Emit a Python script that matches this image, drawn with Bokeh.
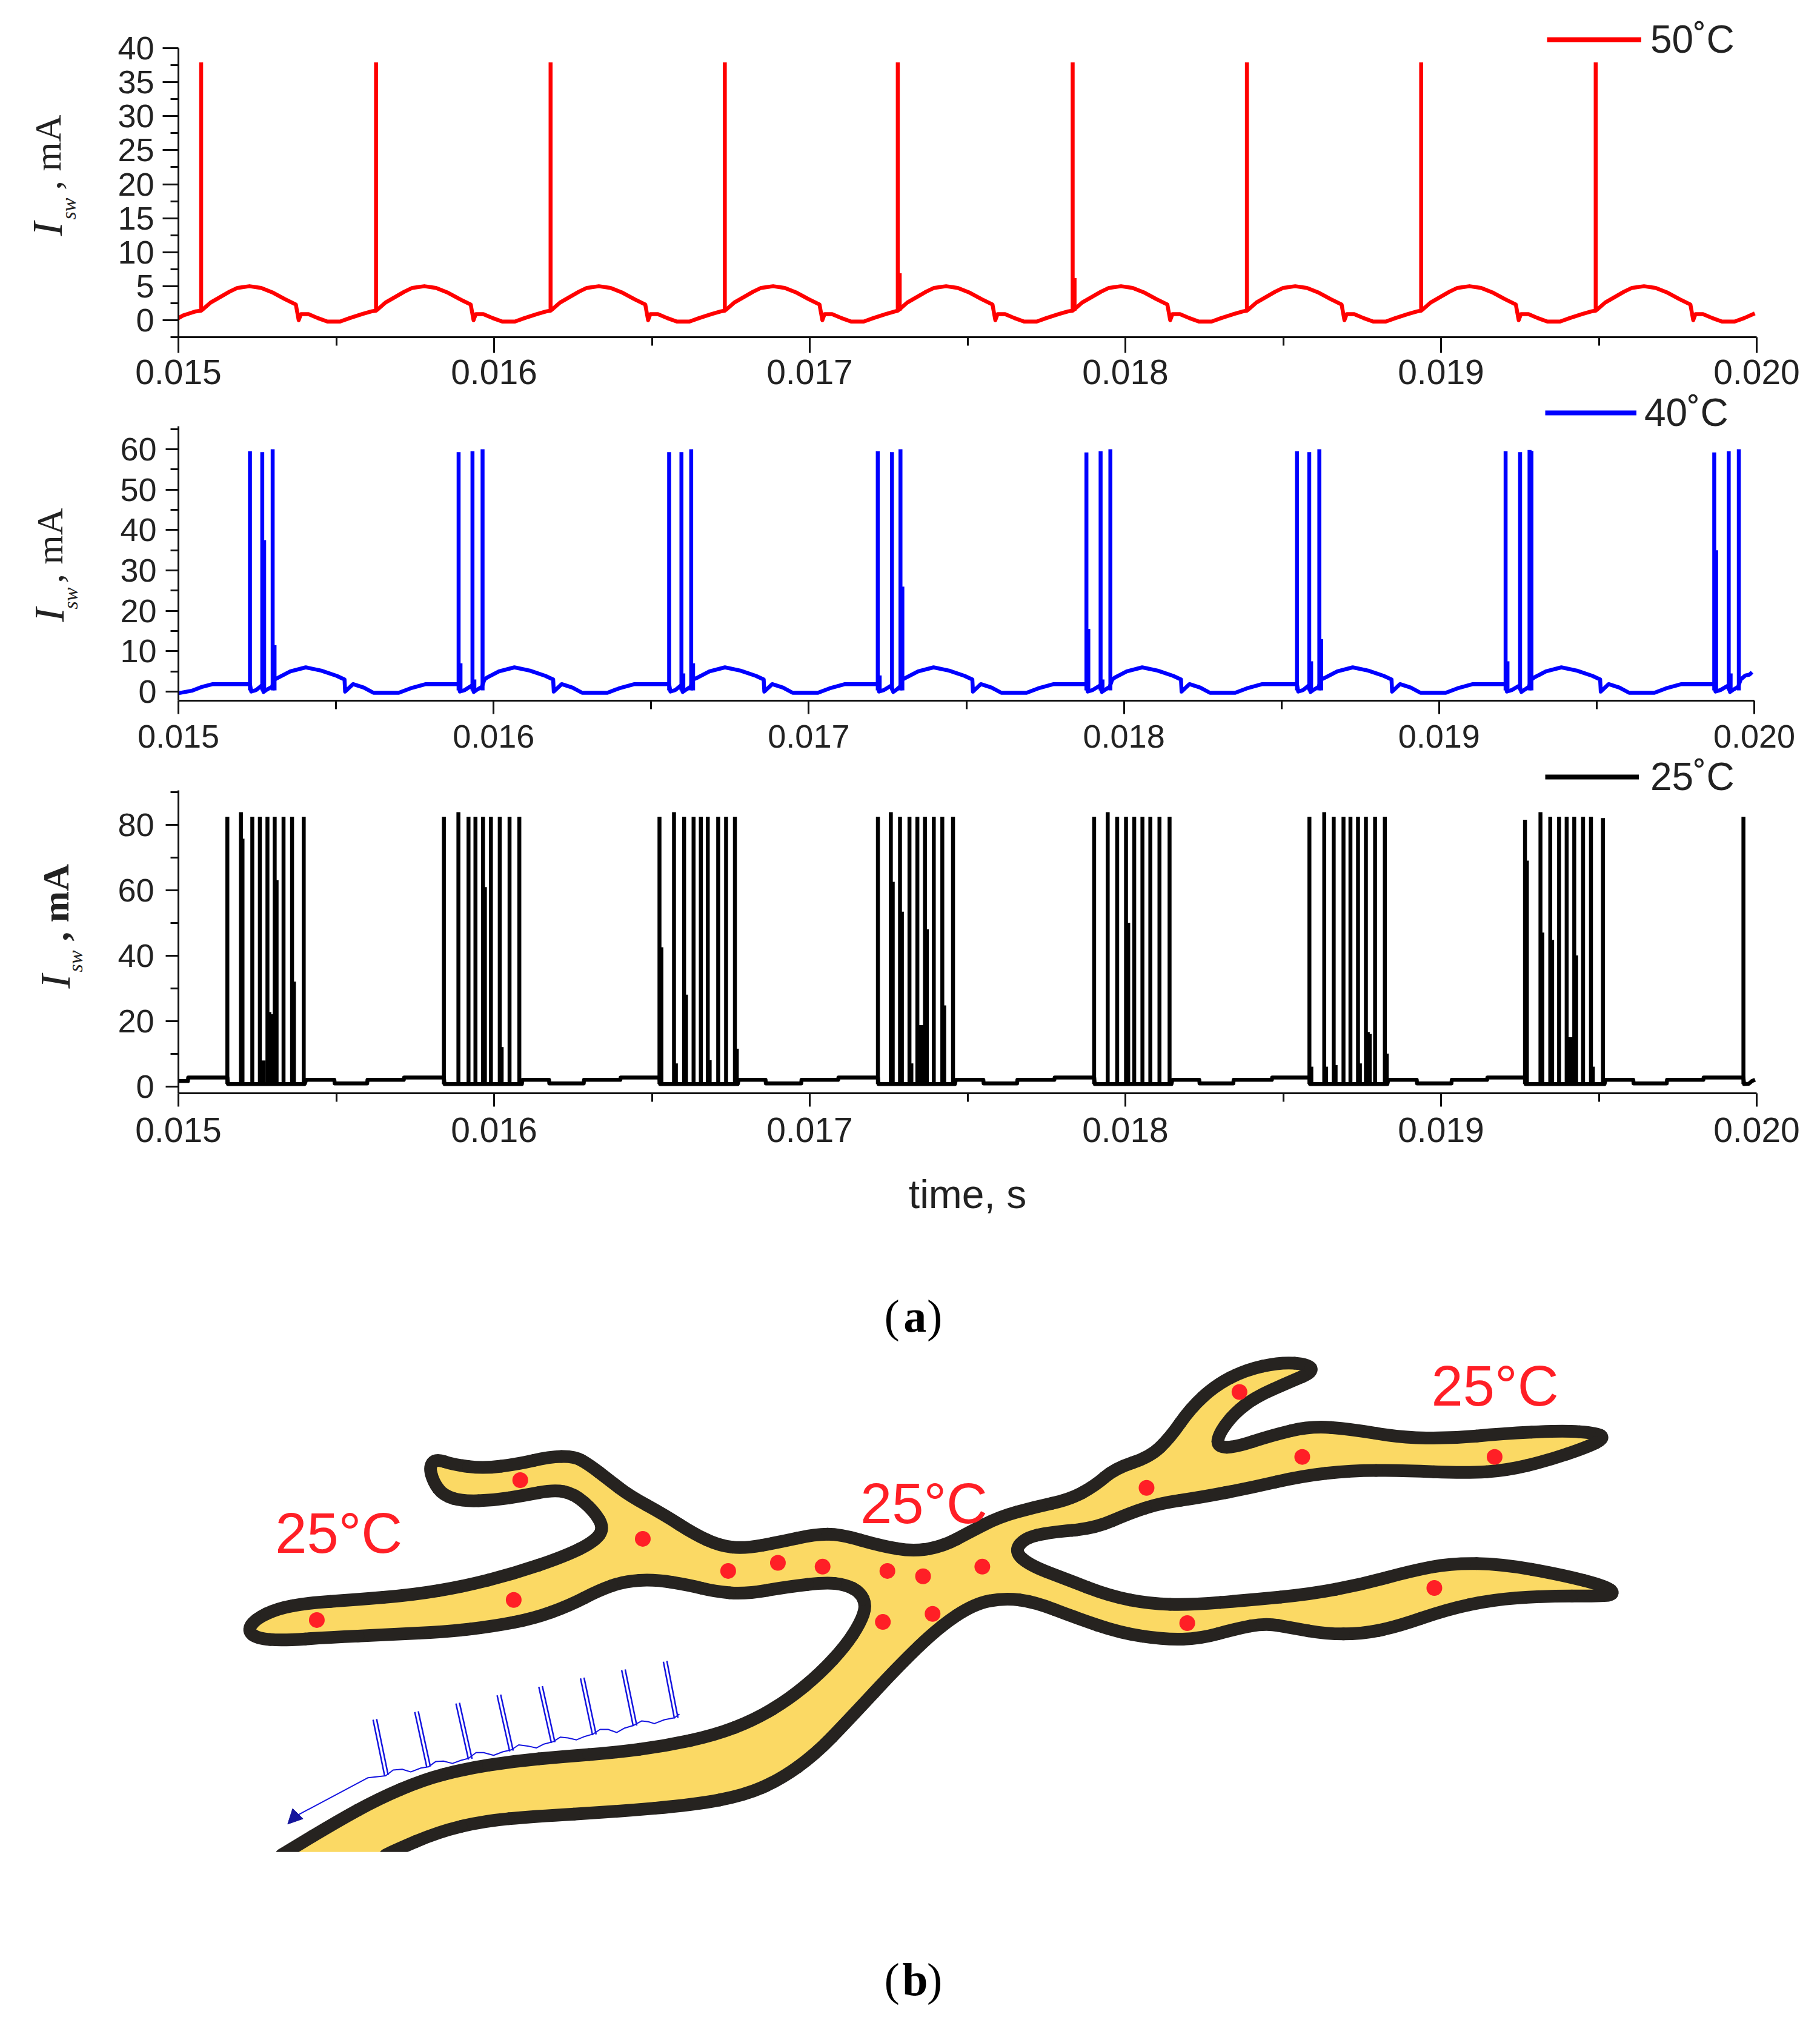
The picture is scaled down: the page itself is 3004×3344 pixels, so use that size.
from bokeh.core.properties import value
from bokeh.embed import file_html
from bokeh.layouts import column
from bokeh.models import (Arrow, FixedTicker, Legend, LegendItem, NormalHead,
                          NumeralTickFormatter, Range1d)
from bokeh.plotting import figure
from bokeh.resources import INLINE
import numpy as np

# time values are in ms, divided by 1000 when plotted
x_major = [0.015, 0.016, 0.017, 0.018, 0.019, 0.020]
x_minor = [0.0155, 0.0165, 0.0175, 0.0185, 0.0195]

# 50 C panel
red_y_major = [0, 5, 10, 15, 20, 25, 30, 35, 40]
red_y_minor = [-2.5, 2.5, 7.5, 12.5, 17.5, 22.5, 27.5, 32.5, 37.5]
red_base_v_cycle = [1.4, 1.7, 2.6, 3.4, 4.2, 4.75, 5.0, 4.75, 4.1, 3.1, 2.3, 0.0, 0.9, 0.9, 0.3, -0.2, -0.2, 0.3, 0.9, 1.3]
red_base_t = [15.000, 15.015, 15.035, 15.055,
    15.072, 15.080, 15.102, 15.132, 15.162, 15.187, 15.225, 15.262, 15.297, 15.337, 15.372, 15.381, 15.388, 15.412, 15.442, 15.472, 15.512, 15.542, 15.582, 15.612,
    15.626, 15.634, 15.656, 15.686, 15.716, 15.741, 15.779, 15.816, 15.851, 15.891, 15.926, 15.935, 15.942, 15.966, 15.996, 16.026, 16.066, 16.096, 16.136, 16.166,
    16.179, 16.187, 16.209, 16.239, 16.269, 16.294, 16.332, 16.369, 16.404, 16.444, 16.479, 16.488, 16.495, 16.519, 16.549, 16.579, 16.619, 16.649, 16.689, 16.719,
    16.731, 16.739, 16.761, 16.791, 16.821, 16.846, 16.884, 16.921, 16.956, 16.996, 17.031, 17.040, 17.047, 17.071, 17.101, 17.131, 17.171, 17.201, 17.241, 17.271,
    17.279, 17.287, 17.309, 17.339, 17.369, 17.394, 17.432, 17.469, 17.504, 17.544, 17.579, 17.588, 17.595, 17.619, 17.649, 17.679, 17.719, 17.749, 17.789, 17.819,
    17.833, 17.841, 17.863, 17.893, 17.923, 17.948, 17.986, 18.023, 18.058, 18.098, 18.133, 18.142, 18.149, 18.173, 18.203, 18.233, 18.273, 18.303, 18.343, 18.373,
    18.385, 18.393, 18.415, 18.445, 18.475, 18.500, 18.538, 18.575, 18.610, 18.650, 18.685, 18.694, 18.701, 18.725, 18.755, 18.785, 18.825, 18.855, 18.895, 18.925,
    18.937, 18.945, 18.967, 18.997, 19.027, 19.052, 19.090, 19.127, 19.162, 19.202, 19.237, 19.246, 19.253, 19.277, 19.307, 19.337, 19.377, 19.407, 19.447, 19.477,
    19.490, 19.498, 19.520, 19.550, 19.580, 19.605, 19.643, 19.680, 19.715, 19.755, 19.790, 19.799, 19.806, 19.830, 19.860, 19.890, 19.930, 19.960, 19.994]
red_base_v = [0.3, 0.7, 1.0, 1.3] + red_base_v_cycle * 8 + red_base_v_cycle[:18] + [1.0]
red_spike_t = [15.072, 15.626, 16.179, 16.731, 17.279, 17.285, 17.833, 17.839, 18.385, 18.937, 19.490]
red_spike_top = [37.9, 37.9, 37.9, 37.9, 37.9, 6.9, 37.9, 6.2, 37.9, 37.9, 37.9]

# 40 C panel
blue_y_major = [0, 10, 20, 30, 40, 50, 60]
blue_y_minor = [5, 15, 25, 35, 45, 55, 65]
blue_v_cycle = [1.85, 0.0, 0.4, 1.5, -0.1, 0.5, 1.2, 3.0, 3.5, 5.0, 6.0, 5.2, 3.9, 3.0, 0.0, 1.85, 1.0, -0.3, -0.3, 0.8, 1.85]
blue_base_t = [15.000, 15.042, 15.072, 15.109,
    15.227, 15.231, 15.247, 15.264, 15.270, 15.281, 15.297, 15.305, 15.318, 15.355, 15.404, 15.453, 15.502, 15.527, 15.529, 15.554, 15.588, 15.619, 15.699, 15.736, 15.785,
    15.889, 15.893, 15.909, 15.931, 15.937, 15.948, 15.963, 15.971, 15.980, 16.017, 16.066, 16.115, 16.164, 16.189, 16.191, 16.216, 16.250, 16.281, 16.361, 16.398, 16.447,
    16.557, 16.561, 16.577, 16.594, 16.600, 16.611, 16.625, 16.633, 16.648, 16.685, 16.734, 16.783, 16.832, 16.857, 16.859, 16.884, 16.918, 16.949, 17.029, 17.066, 17.115,
    17.219, 17.223, 17.239, 17.262, 17.268, 17.279, 17.289, 17.297, 17.310, 17.347, 17.396, 17.445, 17.494, 17.519, 17.521, 17.546, 17.580, 17.611, 17.691, 17.728, 17.777,
    17.881, 17.885, 17.901, 17.924, 17.930, 17.941, 17.955, 17.963, 17.972, 18.009, 18.058, 18.107, 18.156, 18.181, 18.183, 18.208, 18.242, 18.273, 18.353, 18.390, 18.439,
    18.549, 18.553, 18.569, 18.586, 18.592, 18.603, 18.618, 18.626, 18.640, 18.677, 18.726, 18.775, 18.824, 18.849, 18.851, 18.876, 18.910, 18.941, 19.021, 19.058, 19.107,
    19.211, 19.215, 19.231, 19.255, 19.261, 19.272, 19.285, 19.293, 19.302, 19.339, 19.388, 19.437, 19.486, 19.511, 19.513, 19.538, 19.572, 19.603, 19.683, 19.720, 19.769,
    19.873, 19.877, 19.893, 19.917, 19.923, 19.934, 19.949, 19.957, 19.972, 19.985, 19.993]
blue_base_v = [-0.4, 0.2, 1.1, 1.85] + blue_v_cycle * 7 + blue_v_cycle[:8] + [4.0, 4.2, 4.8]
blue_spike_t = [15.227, 15.266, 15.272, 15.299, 15.305,
    15.889, 15.895, 15.933, 15.939, 15.965,
    16.557, 16.596, 16.602, 16.627, 16.633,
    17.219, 17.225, 17.264, 17.291, 17.297,
    17.881, 17.887, 17.926, 17.932, 17.957,
    18.549, 18.588, 18.594, 18.620, 18.626,
    19.211, 19.217, 19.257, 19.287, 19.293,
    19.873, 19.879, 19.919, 19.925, 19.951]
blue_spike_top = [59.5, 59.3, 37.5, 60, 11.5,
    59.3, 7, 59.5, 3, 60,
    59.3, 59.3, 4.5, 60, 7,
    59.5, 4, 59.3, 60, 26,
    59.2, 15.5, 59.5, 3, 60,
    59.5, 59.3, 7.5, 60, 13,
    59.5, 7.5, 59.3, 59.8, 59.6,
    59.2, 35, 59.5, 4.5, 60]

# 25 C panel
black_y_major = [0, 20, 40, 60, 80]
black_y_minor = [10, 30, 50, 70, 90]
black_base_t = [15.000, 15.030, 15.031, 15.155, 15.157, 15.400, 15.405, 15.494, 15.495, 15.598, 15.599, 15.714, 15.715, 15.841,
    15.843, 16.088, 16.090, 16.174, 16.175, 16.284, 16.285, 16.400, 16.401, 16.524,
    16.526, 16.772, 16.775, 16.860, 16.861, 16.973, 16.974, 17.090, 17.091, 17.216,
    17.218, 17.460, 17.463, 17.550, 17.551, 17.657, 17.658, 17.775, 17.776, 17.901,
    17.903, 18.146, 18.149, 18.234, 18.235, 18.342, 18.343, 18.464, 18.465, 18.583,
    18.585, 18.830, 18.833, 18.923, 18.924, 19.033, 19.034, 19.146, 19.147, 19.266,
    19.268, 19.518, 19.521, 19.609, 19.610, 19.715, 19.716, 19.831, 19.832, 19.958,
    19.960, 19.975, 19.985, 19.995]
black_base_v = [1.6, 1.6, 2.7, 2.7, 0.7, 0.7, 2.0, 2.0, 0.9, 0.9, 2.0, 2.0, 2.7, 2.7,
    0.7, 0.7, 2.0, 2.0, 0.9, 0.9, 2.0, 2.0, 2.7, 2.7,
    0.7, 0.7, 2.0, 2.0, 0.9, 0.9, 2.0, 2.0, 2.7, 2.7,
    0.7, 0.7, 2.0, 2.0, 0.9, 0.9, 2.0, 2.0, 2.7, 2.7,
    0.7, 0.7, 2.0, 2.0, 0.9, 0.9, 2.0, 2.0, 2.7, 2.7,
    0.7, 0.7, 2.0, 2.0, 0.9, 0.9, 2.0, 2.0, 2.7, 2.7,
    0.7, 0.7, 2.0, 2.0, 0.9, 0.9, 2.0, 2.0, 2.7, 2.7,
    0.7, 0.8, 1.6, 2.0]
black_spike_t = [15.155, 15.198, 15.203, 15.234, 15.258, 15.270, 15.282, 15.288, 15.293, 15.298, 15.305, 15.311, 15.333, 15.360, 15.366, 15.397,
    15.841, 15.887, 15.919, 15.941, 15.965, 15.971, 15.990, 16.018, 16.024, 16.049, 16.080,
    16.524, 16.530, 16.570, 16.576, 16.602, 16.608, 16.632, 16.655, 16.677, 16.683, 16.710, 16.735, 16.763, 16.769,
    17.216, 17.257, 17.263, 17.286, 17.292, 17.316, 17.322, 17.341, 17.347, 17.352, 17.358, 17.365, 17.371, 17.393, 17.420, 17.426, 17.454,
    17.901, 17.944, 17.974, 18.002, 18.009, 18.028, 18.054, 18.079, 18.108, 18.140,
    18.583, 18.589, 18.630, 18.636, 18.660, 18.666, 18.691, 18.713, 18.737, 18.743, 18.762, 18.768, 18.774, 18.791, 18.822, 18.828,
    19.266, 19.272, 19.315, 19.321, 19.346, 19.352, 19.374, 19.398, 19.404, 19.410, 19.416, 19.422, 19.428, 19.450, 19.475, 19.481, 19.513,
    19.958]
black_spike_top = [82.4, 83.8, 75.7, 82.4, 82.4, 7.9, 82.4, 22.7, 22, 22, 82.4, 63, 82.4, 82.4, 32, 82.4,
    82.4, 83.8, 82.4, 82.4, 82.4, 60.9, 82.4, 82.4, 12, 82.4, 82.4,
    82.4, 42.5, 83.8, 7, 82.4, 28, 82.4, 82.4, 82.4, 8, 82.4, 82.4, 82.4, 11.5,
    82.4, 83.8, 62.5, 82.4, 53.4, 82.4, 7, 82.4, 18.7, 18.7, 18.7, 82.4, 48, 82.4, 82.4, 24.7, 82.4,
    82.4, 83.8, 82.4, 82.4, 50, 82.4, 82.4, 82.4, 82.4, 82.4,
    82.4, 6, 83.8, 6, 82.4, 6.5, 82.4, 82.4, 82.4, 7, 82.4, 16.6, 16, 82.4, 82.4, 10,
    81.5, 69, 83.8, 47, 82.4, 44.7, 82.4, 82.4, 15, 15, 15, 82.4, 40, 82.4, 82.4, 6, 82,
    82.4]

# sketch (b), in its own drawing units
vessel_u = [125, 150, 250, 330, 420, 500, 600, 700, 800, 900, 1000, 1080, 1150, 1210, 1260, 1290, 1302, 1290, 1260, 1220, 1150, 1060, 1000, 950, 880, 820, 770, 710, 640, 560, 470, 350, 230, 140, 90, 70, 85, 130, 190, 280, 400, 500, 600, 700, 760, 780, 760, 720, 680, 620, 560, 500, 460, 440, 432, 445, 480, 540, 610, 670, 720, 750, 790, 830, 900, 960, 1010, 1060, 1130, 1200, 1250, 1330,
    1397, 1457, 1507, 1567, 1637, 1707, 1757, 1797, 1867, 1907, 1947, 1997, 2057, 2127, 2182, 2192, 2147, 2077, 2032, 2002, 2002, 2037, 2107, 2187, 2267, 2367, 2467, 2567, 2687, 2757, 2772, 2737, 2657, 2577, 2497, 2367, 2267, 2167, 2067, 1967, 1887, 1827, 1757, 1667, 1617, 1597, 1627, 1697, 1787, 1867, 1947, 2067, 2187, 2287, 2387, 2467, 2567, 2687, 2777, 2792, 2767, 2647, 2547, 2457, 2357, 2287, 2217, 2147, 2097, 2037, 1967, 1897, 1807, 1717, 1637, 1577, 1517, 1447, 1367,
    1267, 1200, 1130, 1060, 960, 800, 640, 540, 450, 360, 330]
vessel_v = [1360, 1340, 1262, 1205, 1155, 1128, 1107, 1095, 1085, 1068, 1040, 1000, 945, 880, 810, 750, 705, 670, 650, 645, 655, 675, 668, 652, 637, 642, 665, 705, 738, 758, 772, 780, 787, 795, 790, 770, 740, 712, 698, 690, 677, 655, 622, 578, 540, 505, 460, 415, 405, 420, 432, 435, 420, 385, 345, 325, 340, 350, 338, 320, 318, 340, 380, 420, 470, 520, 550, 557, 540, 520, 520, 550,
    565, 550, 515, 475, 450, 430, 395, 350, 320, 270, 195, 135, 95, 75, 80, 100, 125, 165, 210, 265, 295, 295, 265, 240, 248, 270, 272, 260, 252, 258, 272, 295, 330, 355, 362, 355, 355, 370, 400, 425, 440, 465, 505, 515, 530, 565, 600, 635, 680, 700, 703, 690, 675, 650, 615, 595, 597, 625, 655, 675, 680, 680, 690, 715, 760, 778, 778, 762, 750, 765, 790, 793, 775, 735, 695, 685, 700, 760, 860,
    1000, 1090, 1155, 1195, 1220, 1238, 1250, 1262, 1290, 1340, 1360]
dots_u = [613, 857, 600, 208, 1027, 1126, 1215, 1344, 1415, 1533, 1335, 1434, 2045, 2170, 2553, 1860, 2433, 1941]
dots_v = [380, 532, 690, 742, 615, 594, 604, 615, 629, 604, 747, 726, 152, 320, 320, 400, 659, 750]
temp_u = [125, 1290, 2427]
temp_v = [518, 440, 137]
temp_text = ["25°C", "25°C", "25°C"]
wave_u = [165, 310, 345, 360, 378, 395, 415, 430, 445, 460, 478, 495, 510, 525, 540, 560, 578, 595, 610, 628, 645, 660, 678, 693, 708, 725, 742, 758, 772, 788, 805, 820, 838, 855, 868, 880, 900, 920, 930]
wave_v = [1250, 1150, 1145, 1130, 1128, 1135, 1125, 1122, 1108, 1107, 1113, 1105, 1100, 1085, 1085, 1092, 1083, 1078, 1065, 1068, 1073, 1063, 1057, 1045, 1047, 1052, 1043, 1037, 1025, 1025, 1033, 1022, 1015, 1003, 1005, 1010, 1000, 995, 985]
pulse_top_u = [320, 403, 485, 567, 650, 733, 815, 898, 327, 410, 492, 574, 657, 740, 822, 905]
pulse_top_v = [1000, 980, 958, 937, 915, 893, 872, 850, 998, 978, 956, 935, 913, 891, 870, 848]
pulse_low_u = [343, 427, 510, 592, 675, 757, 838, 920, 350, 434, 517, 599, 682, 764, 845, 927]
pulse_low_v = [1145, 1123, 1103, 1082, 1060, 1040, 1017, 997, 1143, 1121, 1101, 1080, 1058, 1038, 1015, 995]

TICK_COLOR = "#222222"
AXIS_FONT = "Liberation Sans"
SERIF = "Liberation Serif"
WIDTH = 2996
OVERLAP = 22


def trace_panel(top, height, y0_px, y_scale, x_scale, axis_bottom, axis_top, color, base_t, base_v,
                spike_t, spike_top, spike_bottom, y_major, y_minor, x_tick, y_tick,
                x_size, x_standoff, y_standoff, legend_name, legend_left, legend_center, glyph_w, label_gap, overlap):
    # each panel covers its whole page strip; the axes sit at fixed places inside it
    x_start = 15 - 294 / x_scale
    p = figure(width=WIDTH, height=height,
               x_range=Range1d(x_start / 1000, (x_start + WIDTH / x_scale) / 1000),
               y_range=Range1d((y0_px - top - height) / y_scale, (y0_px - top) / y_scale),
               output_backend="svg", toolbar_location=None, min_border=0,
               margin=(0, 0, -overlap, 0))
    p.background_fill_color = None
    p.border_fill_color = None
    p.outline_line_color = None
    p.grid.visible = False
    p.line(np.array(base_t) / 1000, base_v, line_color=color, line_width=6.5, line_join="round")
    p.segment(np.array(spike_t) / 1000, spike_bottom, np.array(spike_t) / 1000, spike_top, line_color=color, line_width=6.5)
    key = p.line([0.02, 0.02], [500, 500], line_color=color, line_width=8)

    p.xaxis.ticker = FixedTicker(ticks=x_major, minor_ticks=x_minor)
    p.xaxis.formatter = NumeralTickFormatter(format="0.000")
    p.yaxis.ticker = FixedTicker(ticks=y_major, minor_ticks=y_minor)
    p.xaxis[0].fixed_location = axis_bottom
    p.yaxis[0].fixed_location = 0.015
    p.xaxis.bounds = (0.015, 0.020)
    p.yaxis.bounds = (axis_bottom, axis_top)
    for ax in (p.xaxis[0], p.yaxis[0]):
        ax.axis_line_color = "#111111"
        ax.axis_line_width = 3
        ax.major_tick_line_color = "#111111"
        ax.major_tick_line_width = 3
        ax.minor_tick_line_color = "#111111"
        ax.minor_tick_line_width = 3
        ax.major_tick_in = 0
        ax.minor_tick_in = 0
        ax.major_label_text_font = AXIS_FONT
        ax.major_label_text_color = TICK_COLOR
    p.xaxis.major_tick_out = x_tick
    p.xaxis.minor_tick_out = 14
    p.yaxis.major_tick_out = y_tick
    p.yaxis.minor_tick_out = 13
    p.xaxis.major_label_text_font_size = x_size
    p.yaxis.major_label_text_font_size = "54px"
    p.xaxis.major_label_standoff = x_standoff
    p.yaxis.major_label_standoff = y_standoff

    legend = Legend(items=[LegendItem(label=legend_name, renderers=[key])],
                    location=(legend_left, top + height - legend_center - 35), padding=0, margin=0, spacing=0,
                    glyph_width=glyph_w, glyph_height=70, label_height=70, label_standoff=label_gap,
                    border_line_color=None, background_fill_color=None,
                    label_text_font=AXIS_FONT, label_text_font_size="64px",
                    label_text_color=TICK_COLOR)
    p.add_layout(legend)
    return p


def y_title(p, x_scale, y_scale, y0_px, i_x, i_y, sub_x, sub_y, rest_y, style="normal"):
    # rotated axis title pieces: italic I, small sw, then ", mA"
    x_start = p.x_range.start
    for text, px, py, size, font_style in [("I", i_x, i_y, "70px", "italic"),
                                           ("sw", sub_x, sub_y, "34px", "italic"),
                                           (", mA", i_x, rest_y, "62px", style)]:
        p.text([x_start + px / x_scale / 1000], [(y0_px - py) / y_scale], text=[text], angle=90, angle_units="deg",
               text_font=value(SERIF), text_font_size=value(size), text_font_style=font_style,
               text_color="#222222", text_align="left", text_baseline="alphabetic")


p1 = trace_panel(0, 642 + OVERLAP, 528, 11.225, 521, -2.53, 40, "#ff0000", red_base_t, red_base_v,
                 red_spike_t, red_spike_top, 1.4, red_y_major, red_y_minor, 26, 26,
                 "57px", 11, 14, "50˚C", 2553, 66.5, 156, 15, OVERLAP)
y_title(p1, 521, 11.225, 528, 78, 389, 113, 362, 313)

p2 = trace_panel(642, 603 + OVERLAP, 1141, 6.667, 520.2, -2.25, 65.7, "#0000ff", blue_base_t, blue_base_v,
                 blue_spike_t, blue_spike_top, 0.3, blue_y_major, blue_y_minor, 22, 21,
                 "54px", 18, 15, "40˚C", 2550, 683, 151, 13, OVERLAP)
y_title(p2, 520.2, 6.667, 1141, 81, 1026, 116, 1005, 962)

p3 = trace_panel(1245, 765, 1792.5, 5.4, 521, -2.13, 90.5, "#000000", black_base_t, black_base_v,
                 black_spike_t, black_spike_top, 0.7, black_y_major, black_y_minor, 22, 21,
                 "57px", 18, 19, "25˚C", 2550, 1283.6, 155, 19, 0)
y_title(p3, 521, 5.4, 1792.5, 91, 1631, 124, 1604, 1553, style="bold")
p3.xaxis.axis_label = "time, s"
p3.xaxis.axis_label_text_font = AXIS_FONT
p3.xaxis.axis_label_text_font_size = "66px"
p3.xaxis.axis_label_text_font_style = "normal"
p3.xaxis.axis_label_text_color = TICK_COLOR
p3.xaxis.axis_label_standoff = 46

p4 = figure(width=WIDTH, height=1330, x_range=Range1d(-422.2, 3191.8), y_range=Range1d(1786.8, -297.8),
            output_backend="svg", toolbar_location=None, min_border=0)
p4.background_fill_color = None
p4.border_fill_color = None
p4.xaxis.visible = False
p4.yaxis.visible = False
p4.grid.visible = False
p4.outline_line_color = None

# outline drawn as quadratic curves from midpoint to midpoint, each bent by its vertex
u = np.array(vessel_u, dtype=float)
v = np.array(vessel_v, dtype=float)
mid_u = (u[:-1] + u[1:]) / 2
mid_v = (v[:-1] + v[1:]) / 2
p4.patch(mid_u, mid_v, fill_color="#fbd964", line_color=None)
p4.quadratic(mid_u[:-1], mid_v[:-1], mid_u[1:], mid_v[1:], u[1:-1], v[1:-1],
             line_color="#262320", line_width=21, line_cap="round")
p4.quad(left=[0], right=[600], top=[1342], bottom=[1420], fill_color="#ffffff", line_color=None)
p4.scatter(dots_u, dots_v, size=26, fill_color="#ff1f26", line_color=None)
p4.text(temp_u, temp_v, text=temp_text, text_font=value(AXIS_FONT), text_font_size=value("94px"),
        text_color="#ff1f26", text_baseline="alphabetic", text_align="left")
p4.line(wave_u, wave_v, line_color="#1414e0", line_width=2)
p4.segment(pulse_top_u, pulse_top_v, pulse_low_u, pulse_low_v, line_color="#1414e0", line_width=2.5)
p4.add_layout(Arrow(end=NormalHead(size=24, fill_color="#14149c", line_color="#14149c"),
                    x_start=wave_u[0], y_start=wave_v[0], x_end=150, y_end=1270,
                    line_color="#14149c", line_width=2))

# panel captions, with the letter in bold
for letter, base_v in [("a", -44), ("b", 1671)]:
    p4.text([1353], [base_v], text=["("], text_font=value(SERIF), text_font_size=value("76px"),
            text_color="#000000", text_align="center", text_baseline="alphabetic")
    p4.text([1399], [base_v], text=[letter], text_font=value(SERIF), text_font_size=value("76px"),
            text_font_style="bold", text_color="#000000", text_align="center", text_baseline="alphabetic")
    p4.text([1438], [base_v], text=[")"], text_font=value(SERIF), text_font_size=value("76px"),
            text_color="#000000", text_align="center", text_baseline="alphabetic")

page = column(p1, p2, p3, p4)
open("out.html", "w").write(file_html(page, INLINE))
